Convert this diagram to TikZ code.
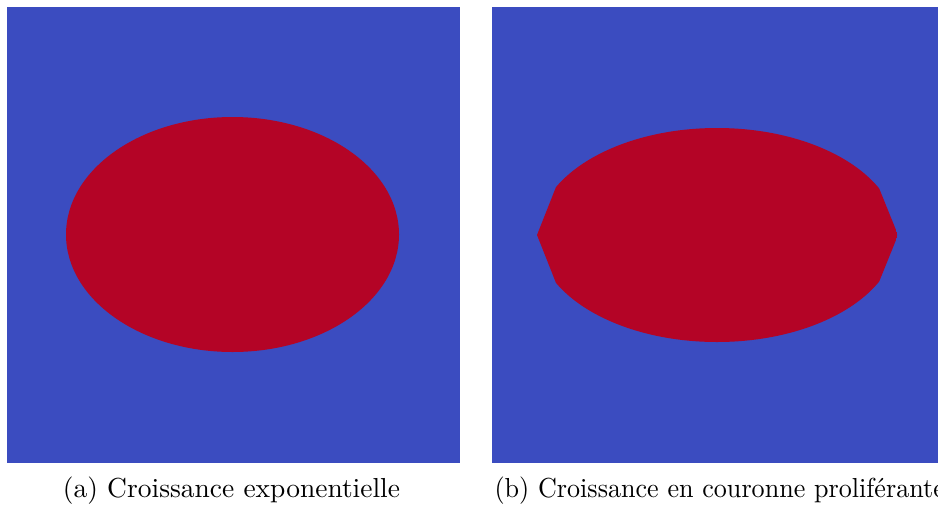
\documentclass[tikz,border=0pt]{standalone}
\definecolor{cwblue}{HTML}{3B4CC0}
\definecolor{cwred}{HTML}{B40426}
\begin{document}
\begin{tikzpicture}[
    x=0.01278cm,y=-0.01278cm,
    field/.style={fill=cwblue,draw=none},
    tumour/.style={fill=cwred,draw=none},
    subcap/.style={inner sep=0pt,anchor=base}
  ]
    \useasboundingbox (0,0) rectangle (938,505);
    \clip (0,0) rectangle (938,505);

    % (a) exponential growth
    \fill[field] (7,7) rectangle (460,463);
    \fill[tumour] (232.5,234.5) ellipse [x radius=166.5,y radius=117.5];

    % (b) proliferating rim
    \fill[field] (492,7) rectangle (945,463);
    \begin{scope}
      \clip (537,235) -- (556,187) -- (556,100) -- (879,100) -- (879,188)
        -- (898,235) -- (879,282) -- (879,360) -- (556,360) -- (556,283) -- cycle;
      \fill[tumour] (717,235) ellipse [x radius=180,y radius=107];
    \end{scope}

    \node[subcap] (capa) at (231.5,497) {(a) Croissance exponentielle};
    \node[subcap,anchor=base west] (capb) at (494,497)
      {\scalebox{0.95}[1]{(b) Croissance en couronne proliférante}};
  \end{tikzpicture}
\end{document}
